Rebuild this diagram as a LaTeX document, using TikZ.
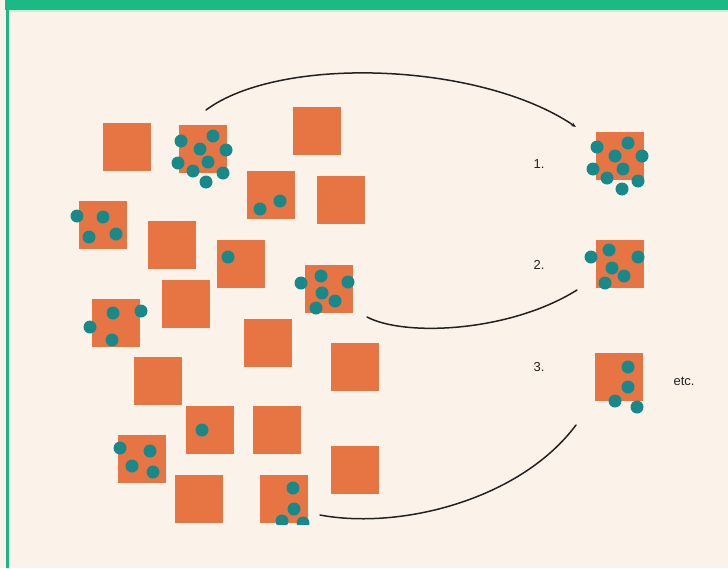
\documentclass[tikz,border=0pt]{standalone}
\usepackage{fontspec}
\setmainfont{Liberation Sans}
\usetikzlibrary{arrows.meta}
\definecolor{bgc}{HTML}{FBF3E9}
\definecolor{framec}{HTML}{1BBA85}
\definecolor{framelight}{HTML}{CFEBDB}
\definecolor{sqc}{HTML}{E77443}
\definecolor{dotc}{HTML}{18898A}
\definecolor{inkc}{HTML}{222222}
\begin{document}
\begin{tikzpicture}[x=1pt,y=-1pt,
  sq/.style={fill=sqc, minimum size=48pt, inner sep=0pt, draw=none},
  conn/.style={line width=1.5pt, draw=inkc, line cap=round},
  lbl/.style={font=\fontsize{13}{15}\selectfont, text=inkc, inner sep=0pt}]
\fill[bgc] (0,0) rectangle (728,568);
\useasboundingbox (0,0) rectangle (728,568);
\fill[framec] (5,0) rectangle (728,10);
\fill[framelight] (8.5,10) rectangle (728,11.5);
\fill[framec] (6,10) rectangle (8.5,568);

% squares
\node[sq] (A) at (127,147) {};
\node[sq] (B) at (202.5,148.5) {};
\node[sq] (C) at (317,130.5) {};
\node[sq] (D) at (271,195) {};
\node[sq] (E) at (340.5,200) {};
\node[sq] (F) at (103,224.5) {};
\node[sq] (G) at (171.5,244.5) {};
\node[sq] (H) at (240.5,263.5) {};
\node[sq] (I) at (328.5,288.5) {};
\node[sq] (J) at (185.5,303.5) {};
\node[sq] (K) at (116,323) {};
\node[sq] (L) at (267.5,342.5) {};
\node[sq] (M) at (157.5,381) {};
\node[sq] (N) at (355,366.5) {};
\node[sq] (O) at (210,429.5) {};
\node[sq] (P) at (276.5,430) {};
\node[sq] (Q) at (142,459) {};
\node[sq] (R) at (355,469.5) {};
\node[sq] (S) at (199,498.5) {};
\node[sq] (T) at (283.5,498.5) {};
\node[sq] (R1) at (619.5,155.5) {};
\node[sq] (R2) at (619.5,263.5) {};
\node[sq] (R3) at (618.5,377) {};

% dots
\foreach \p in {(181,141),(213,136),(200,149),(226,150),(178,163),(208,162),(193,171),(223,173),(206,182),
  (260,209),(280,201),
  (77,216),(103,217),(89,237),(116,234),
  (228,257),
  (301,283),(321,276),(348,282),(322,293),(335,301),(316,308),
  (113,313),(141,311),(90,327),(112,340),
  (202,430),
  (120,448),(150,451),(132,466),(153,472),
  (597,147),(628,143),(615,156),(642,156),(593,169),(623,169),(607,178),(638,181),(622,189),
  (591,257),(609,250),(638,257),(612,268),(624,276),(605,283),
  (628,367),(628,387),(615,401),(637,407)}
  \fill[dotc] \p circle (6.5);
\begin{scope}
  \clip (250,470) rectangle (320,524);
  \foreach \p in {(293,488),(294,509),(282,521),(303,523)}
    \fill[dotc] \p circle (6.5);
\end{scope}

% labels
\node[lbl] (l1) at (539,164) {1.};
\node[lbl] (l2) at (539,265) {2.};
\node[lbl] (l3) at (539,367) {3.};
\node[lbl] (l4) at (684,381) {etc.};

% connectors
\coordinate (a1s) at (206,110);
\coordinate (a1e) at (576,127);
\coordinate (a2s) at (367,317);
\coordinate (a2e) at (577,290);
\coordinate (a3s) at (320,515);
\coordinate (a3e) at (576,425);
\draw[conn, -{Stealth[length=5pt,width=4pt]}] (a1s) .. controls (280,55) and (480,62) .. (a1e);
\draw[conn] (a2s) .. controls (405,337) and (510,332) .. (a2e);
\draw[conn] (a3s) .. controls (400,530) and (520,500) .. (a3e);
\end{tikzpicture}
\end{document}
